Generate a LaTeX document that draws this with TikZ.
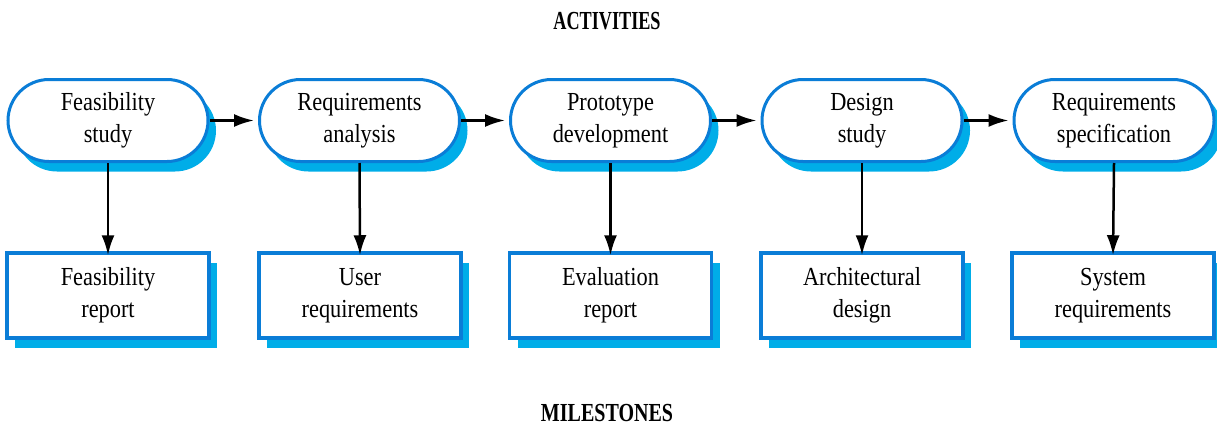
\documentclass[tikz,border=0pt]{standalone}
\usepackage{fontspec}
\setmainfont{Liberation Serif}
\usetikzlibrary{arrows.meta,shapes.misc,shadows}
\definecolor{bord}{RGB}{10,125,215}
\definecolor{shad}{RGB}{0,173,232}
\newcommand{\sqz}[1]{\scalebox{0.86}[1]{#1}}
\tikzset{
  actbox/.style={rounded rectangle, minimum width=200pt, minimum height=82pt, inner sep=0pt,
    draw=bord, line width=3pt, fill=white, align=center,
    font=\fontsize{26}{32}\selectfont,
    general shadow={fill=shad, draw=none, shadow xshift=8pt, shadow yshift=-10pt}},
  milebox/.style={rectangle, minimum width=202pt, minimum height=85pt, inner sep=0pt,
    draw=bord, line width=3.5pt, fill=white, align=center,
    font=\fontsize{26}{32}\selectfont,
    general shadow={fill=shad, draw=none, shadow xshift=8pt, shadow yshift=-10pt}},
  flow/.style={-{Latex[length=20pt,width=13pt]}, line width=2.5pt, black},
  title/.style={font=\fontsize{26}{30}\selectfont\bfseries, inner sep=0pt}
}
\begin{document}
\begin{tikzpicture}[x=1pt,y=-1pt]
\useasboundingbox (0,0) rectangle (1217,426);
\node[title] (ttop) at (607,21) {\scalebox{0.70}[1]{ACTIVITIES}};
\node[title] (tbot) at (607,413) {\scalebox{0.77}[1]{MILESTONES}};

\node[actbox] (a1) at (108,120.5) {\sqz{Feasibility}\\\sqz{study}};
\node[actbox] (a2) at (359.5,120.5) {\sqz{Requirements}\\\sqz{analysis}};
\node[actbox] (a3) at (610.5,120.5) {\sqz{Prototype}\\\sqz{development}};
\node[actbox] (a4) at (862,120.5) {\sqz{Design}\\\sqz{study}};
\node[actbox] (a5) at (1114,120.5) {\sqz{Requirements}\\\sqz{specification}};

\node[milebox] (m1) at (108,295.5) {\sqz{Feasibility}\\\sqz{report}};
\node[milebox] (m2) at (360,295.5) {\sqz{User}\\\sqz{requirements}};
\node[milebox] (m3) at (610.5,295.5) {\sqz{Evaluation}\\\sqz{report}};
\node[milebox] (m4) at (862,295.5) {\sqz{Architectural}\\\sqz{design}};
\node[milebox] (m5) at (1113,295.5) {\sqz{System}\\\sqz{requirements}};

\foreach \i/\j in {1/2,2/3,3/4,4/5}{
  \draw[flow] (a\i.east) -- ([xshift=-4pt]a\j.west);
}
\foreach \i in {1,...,5}{
  \draw[flow] (a\i.south) -- ([yshift=-4pt]m\i.north);
}
\end{tikzpicture}
\end{document}
